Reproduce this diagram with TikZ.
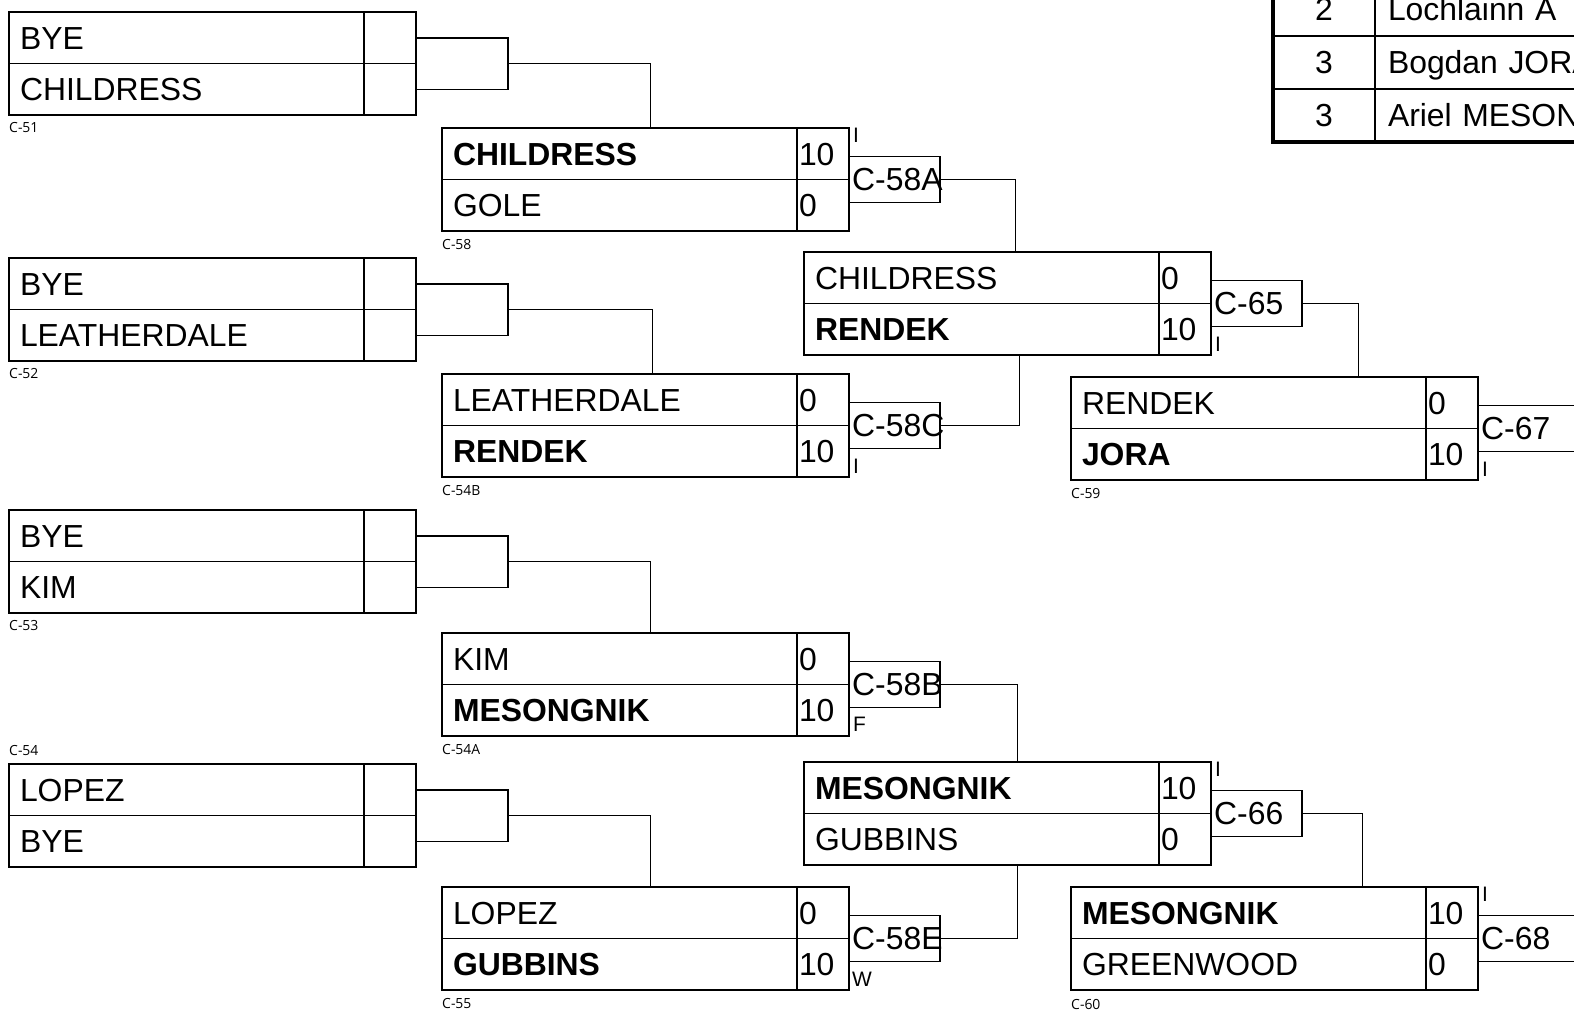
\documentclass[tikz,border=0pt]{standalone}
\usepackage{fontspec}
\setmainfont{Liberation Sans}
\newfontfamily\numfont{Open Sans}
\usetikzlibrary{positioning}

\begin{document}
\begin{tikzpicture}[x=1bp, y=-1bp, node distance=0pt,
    cell/.style={draw, line width=1.8pt, rectangle, outer sep=0pt, minimum height=51.5bp,
      text height=23pt, text depth=0pt, font=\fontsize{32}{36}\selectfont},
    namecell/.style={cell, text width=333bp, inner xsep=11bp, align=left},
    scorecell/.style={cell, text width=48bp, inner xsep=2bp, align=left},
    tagbox/.style={draw, line width=1.5pt, outer sep=0pt, inner sep=0pt, anchor=west,
      minimum width=91bp, minimum height=46bp},
    tagtext/.style={anchor=west, inner sep=0pt, font=\fontsize{32}{36}\selectfont},
    matchno/.style={anchor=west, inner sep=0pt, font=\numfont\fontsize{14}{16}\selectfont},
    winmark/.style={inner sep=0pt, font=\fontsize{21}{24}\selectfont},
    link/.style={line width=1.5pt},
    rankcell/.style={draw, line width=2.2pt, outer sep=0pt, minimum width=102bp, minimum height=53bp,
      text height=23pt, text depth=0pt, font=\fontsize{32}{36}\selectfont},
    playercell/.style={rankcell, text width=300bp, inner xsep=13bp, align=left}]
  \useasboundingbox (0,0) rectangle (1574,1017);
  \clip (0,0) rectangle (1574,1017);

  % first round
  \node[namecell, anchor=north west] (n51a) at (9,12) {BYE};
  \node[namecell, below=of n51a] (n51b) {CHILDRESS};
  \node[scorecell, right=of n51a] (s51a) {};
  \node[scorecell, right=of n51b] (s51b) {};
  \node[tagbox, minimum width=92bp, minimum height=51.5bp] (q51) at (s51a.south east) {};
  \node[matchno] (l51) at ([yshift=-13bp]n51b.south west) {C-51};

  \node[namecell, anchor=north west] (n52a) at (9,258) {BYE};
  \node[namecell, below=of n52a] (n52b) {LEATHERDALE};
  \node[scorecell, right=of n52a] (s52a) {};
  \node[scorecell, right=of n52b] (s52b) {};
  \node[tagbox, minimum width=92bp, minimum height=51.5bp] (q52) at (s52a.south east) {};
  \node[matchno] (l52) at ([yshift=-13bp]n52b.south west) {C-52};

  \node[namecell, anchor=north west] (n53a) at (9,510) {BYE};
  \node[namecell, below=of n53a] (n53b) {KIM};
  \node[scorecell, right=of n53a] (s53a) {};
  \node[scorecell, right=of n53b] (s53b) {};
  \node[tagbox, minimum width=92bp, minimum height=51.5bp] (q53) at (s53a.south east) {};
  \node[matchno] (l53) at ([yshift=-13bp]n53b.south west) {C-53};

  \node[namecell, anchor=north west] (n54a) at (9,764) {LOPEZ};
  \node[namecell, below=of n54a] (n54b) {BYE};
  \node[scorecell, right=of n54a] (s54a) {};
  \node[scorecell, right=of n54b] (s54b) {};
  \node[tagbox, minimum width=92bp, minimum height=51.5bp] (q54) at (s54a.south east) {};
  \node[matchno] (l54) at ([yshift=13bp]n54a.north west) {C-54};

  % second round
  \node[namecell, anchor=north west] (n58a) at (442,128) {\bfseries CHILDRESS};
  \node[namecell, below=of n58a] (n58b) {GOLE};
  \node[scorecell, right=of n58a] (s58a) {10};
  \node[scorecell, right=of n58b] (s58b) {0};
  \node[tagbox] (q58A) at (s58a.south east) {};
  \node[tagtext] (t58A) at ([xshift=3bp]q58A.west) {C-58A};
  \node[winmark, anchor=north west] (w58) at ([xshift=4bp]s58a.north east) {I};
  \node[matchno] (l58) at ([yshift=-14bp]n58b.south west) {C-58};

  \node[namecell, anchor=north west] (n54Ba) at (442,374) {LEATHERDALE};
  \node[namecell, below=of n54Ba] (n54Bb) {\bfseries RENDEK};
  \node[scorecell, right=of n54Ba] (s54Ba) {0};
  \node[scorecell, right=of n54Bb] (s54Bb) {10};
  \node[tagbox] (q58C) at (s54Ba.south east) {};
  \node[tagtext] (t58C) at ([xshift=3bp]q58C.west) {C-58C};
  \node[winmark, anchor=south west] (w54B) at ([xshift=4bp, yshift=3bp]s54Bb.south east) {I};
  \node[matchno] (l54B) at ([yshift=-14bp]n54Bb.south west) {C-54B};

  \node[namecell, anchor=north west] (n54Aa) at (442,633) {KIM};
  \node[namecell, below=of n54Aa] (n54Ab) {\bfseries MESONGNIK};
  \node[scorecell, right=of n54Aa] (s54Aa) {0};
  \node[scorecell, right=of n54Ab] (s54Ab) {10};
  \node[tagbox] (q58B) at (s54Aa.south east) {};
  \node[tagtext] (t58B) at ([xshift=3bp]q58B.west) {C-58B};
  \node[winmark, anchor=south west] (w54A) at ([xshift=4bp, yshift=4bp]s54Ab.south east) {F};
  \node[matchno] (l54A) at ([yshift=-14bp]n54Ab.south west) {C-54A};

  \node[namecell, anchor=north west] (n55a) at (442,887) {LOPEZ};
  \node[namecell, below=of n55a] (n55b) {\bfseries GUBBINS};
  \node[scorecell, right=of n55a] (s55a) {0};
  \node[scorecell, right=of n55b] (s55b) {10};
  \node[tagbox] (q58E) at (s55a.south east) {};
  \node[tagtext] (t58E) at ([xshift=3bp]q58E.west) {C-58E};
  \node[winmark, anchor=south west] (w55) at ([xshift=3bp, yshift=3bp]s55b.south east) {W};
  \node[matchno] (l55) at ([yshift=-14bp]n55b.south west) {C-55};

  % third round
  \node[namecell, anchor=north west] (n65a) at (804,252) {CHILDRESS};
  \node[namecell, below=of n65a] (n65b) {\bfseries RENDEK};
  \node[scorecell, right=of n65a] (s65a) {0};
  \node[scorecell, right=of n65b] (s65b) {10};
  \node[tagbox] (q65) at (s65a.south east) {};
  \node[tagtext] (t65) at ([xshift=3bp]q65.west) {C-65};
  \node[winmark, anchor=south west] (w65) at ([xshift=4bp, yshift=3bp]s65b.south east) {I};

  \node[namecell, anchor=north west] (n66a) at (804,762) {\bfseries MESONGNIK};
  \node[namecell, below=of n66a] (n66b) {GUBBINS};
  \node[scorecell, right=of n66a] (s66a) {10};
  \node[scorecell, right=of n66b] (s66b) {0};
  \node[tagbox] (q66) at (s66a.south east) {};
  \node[tagtext] (t66) at ([xshift=3bp]q66.west) {C-66};
  \node[winmark, anchor=north west] (w66) at ([xshift=4bp]s66a.north east) {I};

  % fourth round
  \node[namecell, anchor=north west] (n59a) at (1071,377) {RENDEK};
  \node[namecell, below=of n59a] (n59b) {\bfseries JORA};
  \node[scorecell, right=of n59a] (s59a) {0};
  \node[scorecell, right=of n59b] (s59b) {10};
  \node[tagbox, minimum width=130bp] (q67) at (s59a.south east) {};
  \node[tagtext] (t67) at ([xshift=3bp]q67.west) {C-67};
  \node[winmark, anchor=south west] (w59) at ([xshift=4bp, yshift=3bp]s59b.south east) {I};
  \node[matchno] (l59) at ([yshift=-14bp]n59b.south west) {C-59};

  \node[namecell, anchor=north west] (n60a) at (1071,887) {\bfseries MESONGNIK};
  \node[namecell, below=of n60a] (n60b) {GREENWOOD};
  \node[scorecell, right=of n60a] (s60a) {10};
  \node[scorecell, right=of n60b] (s60b) {0};
  \node[tagbox, minimum width=130bp] (q68) at (s60a.south east) {};
  \node[tagtext] (t68) at ([xshift=3bp]q68.west) {C-68};
  \node[winmark, anchor=north west] (w60) at ([xshift=4bp]s60a.north east) {I};
  \node[matchno] (l60) at ([yshift=-14bp]n60b.south west) {C-60};

  % links
  \draw[link] (q51.east) -| ([xshift=31bp]n58a.north);
  \draw[link] (q52.east) -| ([xshift=33bp]n54Ba.north);
  \draw[link] (q53.east) -| ([xshift=31bp]n54Aa.north);
  \draw[link] (q54.east) -| ([xshift=31bp]n55a.north);
  \draw[link] (q58A.east) -| ([xshift=34bp]n65a.north);
  \draw[link] (q58C.east) -| ([xshift=38bp]n65b.south);
  \draw[link] (q58B.east) -| ([xshift=36bp]n66a.north);
  \draw[link] (q58E.east) -| ([xshift=36bp]n66b.south);
  \draw[link] (q65.east) -| ([xshift=110bp]n59a.north);
  \draw[link] (q66.east) -| ([xshift=114bp]n60a.north);

  % final standings
  \node[rankcell, anchor=north west] (r1) at (1273,-17) {2};
  \node[playercell, right=of r1] (p1) {Lochlainn A};
  \node[rankcell, below=of r1] (r2) {3};
  \node[playercell, right=of r2] (p2) {Bogdan JORA};
  \node[rankcell, below=of r2] (r3) {3};
  \node[playercell, right=of r3] (p3) {Ariel MESONGNIK};
  \draw[line width=4pt] (r1.north west) -- (r3.south west) -- (p3.south east);
\end{tikzpicture}
\end{document}
